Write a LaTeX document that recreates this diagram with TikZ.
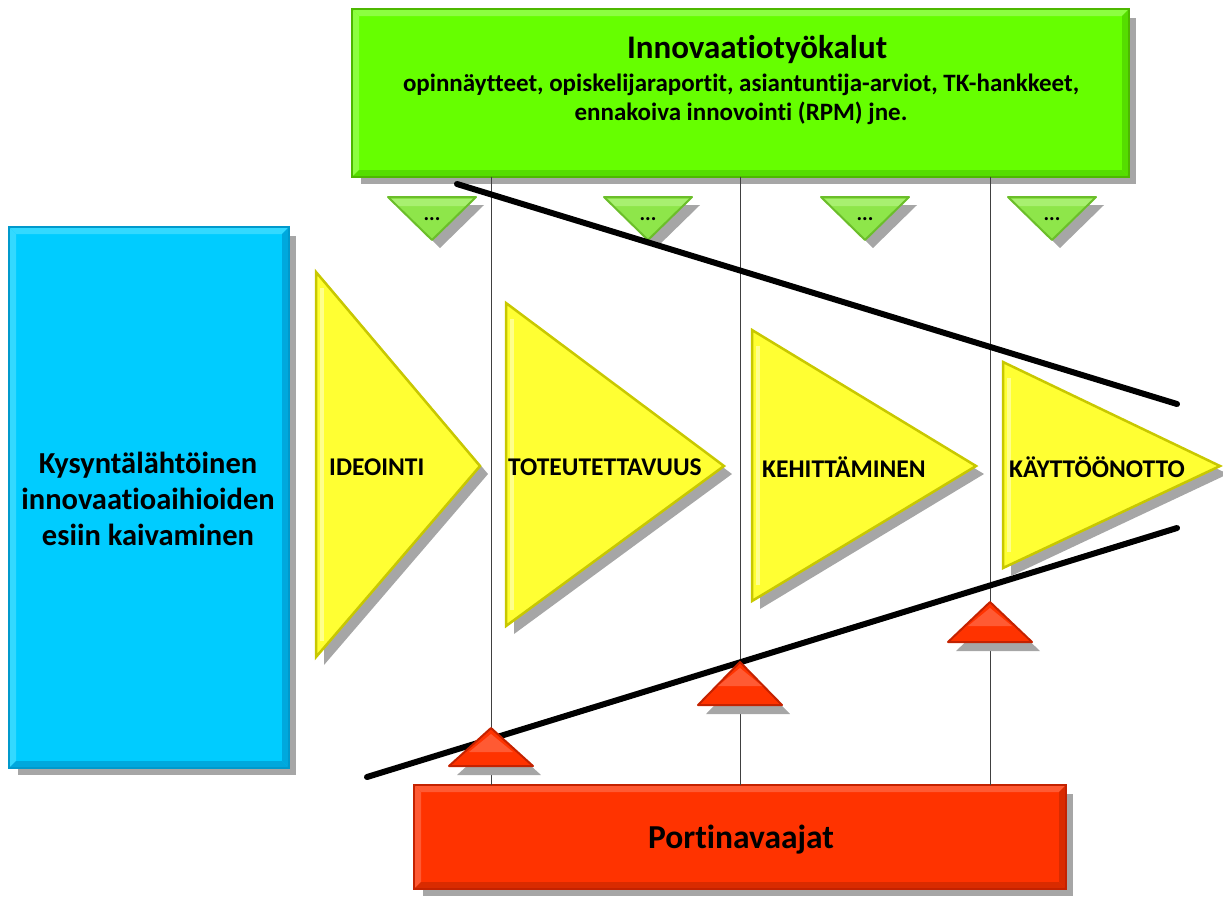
\documentclass[tikz,border=0pt]{standalone}
\usepackage{fontspec}
\setmainfont{Carlito}[Ligatures=NoCommon]
\usetikzlibrary{shadows}

\definecolor{gfill}{HTML}{66FF00}
\definecolor{gedge}{HTML}{4DB800}
\definecolor{glight}{HTML}{8CFF40}
\definecolor{gdark}{HTML}{55DD00}
\definecolor{bfill}{HTML}{00CCFF}
\definecolor{bedge}{HTML}{0099CC}
\definecolor{blight}{HTML}{33D9FF}
\definecolor{bdark}{HTML}{00A8DD}
\definecolor{rfill}{HTML}{FF3300}
\definecolor{redge}{HTML}{C42200}
\definecolor{rlight}{HTML}{FF5A33}
\definecolor{rdark}{HTML}{D92B00}
\definecolor{yfill}{HTML}{FFFF33}
\definecolor{yedge}{HTML}{C8C800}
\definecolor{ylight}{HTML}{FFFF8C}
\definecolor{sgfill}{HTML}{8EE64A}
\definecolor{sgedge}{HTML}{6BBE2A}
\definecolor{sglight}{HTML}{A8F070}
\definecolor{shade}{HTML}{A6A6A6}

\newcommand\bevelbox[3]{%
  \fill[#2] (#1.north west) -- (#1.north east) -- ([xshift=-7pt,yshift=-7pt]#1.north east)
    -- ([xshift=7pt,yshift=-7pt]#1.north west) -- cycle;
  \fill[#2] (#1.north west) -- ([xshift=7pt,yshift=-7pt]#1.north west)
    -- ([xshift=7pt,yshift=7pt]#1.south west) -- (#1.south west) -- cycle;
  \fill[#3] (#1.north east) -- ([xshift=-7pt,yshift=-7pt]#1.north east)
    -- ([xshift=-7pt,yshift=7pt]#1.south east) -- (#1.south east) -- cycle;
  \fill[#3] (#1.south west) -- ([xshift=7pt,yshift=7pt]#1.south west)
    -- ([xshift=-7pt,yshift=7pt]#1.south east) -- (#1.south east) -- cycle;
}

\tikzset{
  panel/.style={rectangle, inner sep=0pt, line width=2pt,
    drop shadow={shadow xshift=8pt, shadow yshift=-8pt, fill=shade, opacity=1}},
  shadowed/.style={drop shadow={shadow xshift=8pt, shadow yshift=-8pt, fill=shade, opacity=1}},
  stagetri/.style={shadowed, fill=yfill, draw=yedge, line width=2.5pt, line join=miter},
  gatetri/.style={drop shadow={shadow xshift=8pt, shadow yshift=-9pt, fill=shade, opacity=1},
    fill=rfill, draw=redge, line width=2pt, line join=round},
  tooltri/.style={shadowed, fill=sgfill, draw=sgedge, line width=2pt, line join=round},
  phase/.style={anchor=west, inner sep=0pt, font=\fontsize{25.5}{29}\selectfont\bfseries},
  guide/.style={draw=black!75, line width=0.8pt},
  trend/.style={draw=black, line width=6pt, line cap=round},
  dots/.style={inner sep=0pt, font=\fontsize{21}{24}\selectfont\bfseries},
}

\begin{document}
\begin{tikzpicture}[x=1pt,y=-1pt]
\useasboundingbox (0,0) rectangle (1223,898);

% main panels
\node[panel, fill=gfill, draw=gedge, minimum width=775pt, minimum height=166pt] (tools) at (740.5,93) {};
\bevelbox{tools}{glight}{gdark}
\draw[gedge, line width=2pt] (tools.north west) rectangle (tools.south east);

\node[panel, fill=bfill, draw=bedge, minimum width=278pt, minimum height=539pt] (demand) at (149,497.5) {};
\bevelbox{demand}{blight}{bdark}
\draw[bedge, line width=2pt] (demand.north west) rectangle (demand.south east);

\node[panel, fill=rfill, draw=redge, minimum width=650pt, minimum height=102pt] (gate) at (740,837) {};
\bevelbox{gate}{rlight}{rdark}
\draw[redge, line width=2pt] (gate.north west) rectangle (gate.south east);

% panel texts
\node[inner sep=0pt, font=\fontsize{33}{36}\selectfont\bfseries] (toolstitle) at (757,50) {Innovaatiotyökalut};
\node[inner sep=0pt, align=center, font=\fontsize{25}{29}\selectfont\bfseries] (toolslist) at (741,99)
  {opinnäytteet, opiskelijaraportit, asiantuntija-arviot, TK-hankkeet,\\ennakoiva innovointi (RPM) jne.};
\node[inner sep=0pt, align=center, font=\fontsize{30.5}{36}\selectfont\bfseries] (demandtext) at (148,499)
  {Kysyntälähtöinen\\innovaatioaihioiden\\esiin kaivaminen};
\node[inner sep=0pt, font=\fontsize{33.5}{36}\selectfont\bfseries] (gatetext) at (741,840) {Portinavaajat};

% vertical guides between the tool panel and the gatekeepers
\coordinate (v1) at (491,177);
\coordinate (v2) at (740,177);
\coordinate (v3) at (990,177);
\foreach \v in {v1,v2,v3}
  \draw[guide] (\v) -- (\v |- gate.north);

% small tool markers
\foreach \cx [count=\i] in {432,648,865,1052} {
  \path[tooltri] (\cx-44,197) -- (\cx+44,197) -- (\cx,240) -- cycle;
  \fill[sglight] (\cx-40,199) -- (\cx+40,199) -- (\cx+33,206) -- (\cx-33,206) -- cycle;
  \node[dots] (tool\i) at (\cx,219) {...};
}

% funnel lines
\coordinate (ua) at (457,184);
\coordinate (ub) at (1177,404);
\coordinate (la) at (367,777);
\coordinate (lb) at (1177,528);
\draw[trend] (ua) -- (ub);
\draw[trend] (la) -- (lb);

% gatekeeper markers
\foreach \cx/\top/\bot [count=\i] in {491/728/766, 740/662/705, 990/602/642} {
  \path[gatetri] (\cx-42,\bot) -- (\cx,\top) -- (\cx+42,\bot) -- cycle;
  \fill[rlight] (\cx,\top+6) -- (\cx+22,\top+24) -- (\cx-22,\top+24) -- cycle;
  \coordinate (gk\i) at (\cx,\top);
}

% phase arrows
\foreach \l/\t/\b/\p [count=\i] in {316/272/657/480, 506/303/626/724, 752/330/601/976, 1003/362/568/1220} {
  \path[stagetri] (\l,\t) -- (\p,466) -- (\l,\b) -- cycle;
  \draw[ylight, line width=4pt] (\l+6,\t+16) -- (\l+6,\b-16);
  \coordinate (ph\i) at (\l,466);
}
\node[phase] (ideointi) at (329,467) {IDEOINTI};
\node[phase] (toteutus) at (508,467) {TOTEUTETTAVUUS};
\node[phase] (kehitys) at (762,467) {KEHITTÄMINEN};
\node[phase] (kaytto) at (1009,467) {KÄYTTÖÖNOTTO};

\end{tikzpicture}
\end{document}
